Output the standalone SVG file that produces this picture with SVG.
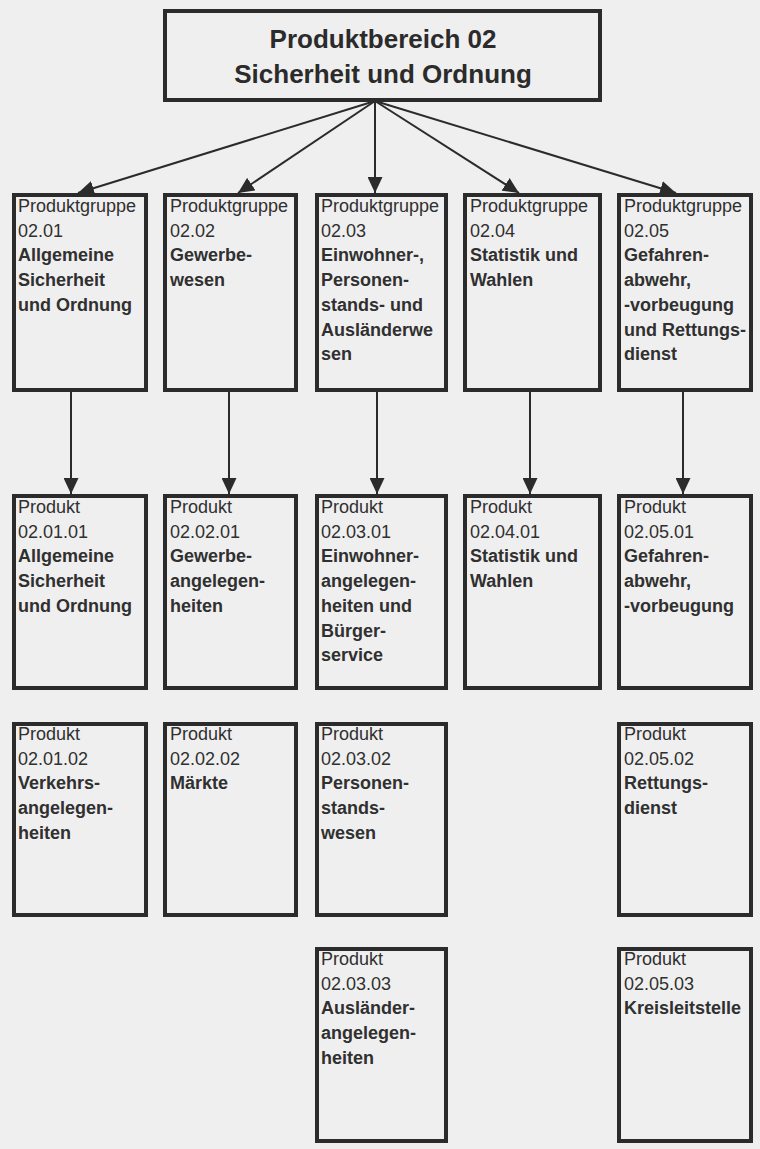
<svg xmlns="http://www.w3.org/2000/svg" width="760" height="1149" viewBox="0 0 760 1149">
<style>
.bg{fill:#efefef}
.box{fill:none;stroke:#2b2b2b;stroke-width:4}
.t{font-family:"Liberation Sans",Arial,sans-serif;font-size:18px;fill:#303030}
.b{font-weight:bold}
.title{font-family:"Liberation Sans",Arial,sans-serif;font-size:26px;font-weight:bold;fill:#2b2b2b;text-anchor:middle}
.con{stroke:#2b2b2b;stroke-width:2;fill:none;marker-end:url(#ah)}
</style>
<defs>
<marker id="ah" markerUnits="userSpaceOnUse" markerWidth="16" markerHeight="15" refX="16" refY="7.5" orient="auto">
<path d="M0,0 L16,7.5 L0,15 z" fill="#2b2b2b"/>
</marker>
</defs>
<rect class="bg" x="0" y="0" width="760" height="1149"/>

<g id="connectors">
<line class="con" x1="375" y1="101" x2="78" y2="193"/>
<line class="con" x1="375" y1="101" x2="238" y2="193"/>
<line class="con" x1="375" y1="101" x2="375" y2="193"/>
<line class="con" x1="375" y1="101" x2="519" y2="193"/>
<line class="con" x1="375" y1="101" x2="676" y2="193"/>
<line class="con" x1="71" y1="392" x2="71" y2="494"/>
<line class="con" x1="229" y1="392" x2="229" y2="494"/>
<line class="con" x1="377" y1="392" x2="377" y2="494"/>
<line class="con" x1="530" y1="392" x2="530" y2="494"/>
<line class="con" x1="683" y1="392" x2="683" y2="494"/>
</g>

<g id="pb02">
<rect class="box" x="165" y="11" width="435" height="89"/>
<text class="title" x="383" y="48">Produktbereich 02</text>
<text class="title" x="383" y="83">Sicherheit und Ordnung</text>
</g>

<!-- Row 1 -->
<g id="pg0201">
<rect class="box" x="14" y="195" width="132" height="195"/>
<text class="t" x="18" y="212">Produktgruppe<tspan x="18" dy="24.7">02.01</tspan><tspan class="b" x="18" dy="24.7">Allgemeine</tspan><tspan class="b" x="18" dy="24.7">Sicherheit</tspan><tspan class="b" x="18" dy="24.7">und Ordnung</tspan></text>
</g>
<g id="pg0202">
<rect class="box" x="165" y="195" width="131" height="195"/>
<text class="t" x="170" y="212">Produktgruppe<tspan x="170" dy="24.7">02.02</tspan><tspan class="b" x="170" dy="24.7">Gewerbe-</tspan><tspan class="b" x="170" dy="24.7">wesen</tspan></text>
</g>
<g id="pg0203">
<rect class="box" x="317" y="195" width="129" height="195"/>
<text class="t" x="321" y="212">Produktgruppe<tspan x="321" dy="24.7">02.03</tspan><tspan class="b" x="321" dy="24.7">Einwohner-,</tspan><tspan class="b" x="321" dy="24.7">Personen-</tspan><tspan class="b" x="321" dy="24.7">stands- und</tspan><tspan class="b" x="321" dy="24.7">Ausländerwe</tspan><tspan class="b" x="321" dy="24.7">sen</tspan></text>
</g>
<g id="pg0204">
<rect class="box" x="465" y="195" width="135" height="195"/>
<text class="t" x="470" y="212">Produktgruppe<tspan x="470" dy="24.7">02.04</tspan><tspan class="b" x="470" dy="24.7">Statistik und</tspan><tspan class="b" x="470" dy="24.7">Wahlen</tspan></text>
</g>
<g id="pg0205">
<rect class="box" x="619" y="195" width="132" height="195"/>
<text class="t" x="624" y="212">Produktgruppe<tspan x="624" dy="24.7">02.05</tspan><tspan class="b" x="624" dy="24.7">Gefahren-</tspan><tspan class="b" x="624" dy="24.7">abwehr,</tspan><tspan class="b" x="624" dy="24.7">-vorbeugung</tspan><tspan class="b" x="624" dy="24.7">und Rettungs-</tspan><tspan class="b" x="624" dy="24.7">dienst</tspan></text>
</g>

<!-- Row 2 -->
<g id="p020101">
<rect class="box" x="14" y="496" width="132" height="192"/>
<text class="t" x="18" y="513">Produkt<tspan x="18" dy="24.7">02.01.01</tspan><tspan class="b" x="18" dy="24.7">Allgemeine</tspan><tspan class="b" x="18" dy="24.7">Sicherheit</tspan><tspan class="b" x="18" dy="24.7">und Ordnung</tspan></text>
</g>
<g id="p020201">
<rect class="box" x="165" y="496" width="131" height="192"/>
<text class="t" x="170" y="513">Produkt<tspan x="170" dy="24.7">02.02.01</tspan><tspan class="b" x="170" dy="24.7">Gewerbe-</tspan><tspan class="b" x="170" dy="24.7">angelegen-</tspan><tspan class="b" x="170" dy="24.7">heiten</tspan></text>
</g>
<g id="p020301">
<rect class="box" x="317" y="496" width="129" height="192"/>
<text class="t" x="321" y="513">Produkt<tspan x="321" dy="24.7">02.03.01</tspan><tspan class="b" x="321" dy="24.7">Einwohner-</tspan><tspan class="b" x="321" dy="24.7">angelegen-</tspan><tspan class="b" x="321" dy="24.7">heiten und</tspan><tspan class="b" x="321" dy="24.7">Bürger-</tspan><tspan class="b" x="321" dy="24.7">service</tspan></text>
</g>
<g id="p020401">
<rect class="box" x="465" y="496" width="135" height="192"/>
<text class="t" x="470" y="513">Produkt<tspan x="470" dy="24.7">02.04.01</tspan><tspan class="b" x="470" dy="24.7">Statistik und</tspan><tspan class="b" x="470" dy="24.7">Wahlen</tspan></text>
</g>
<g id="p020501">
<rect class="box" x="619" y="496" width="132" height="192"/>
<text class="t" x="624" y="513">Produkt<tspan x="624" dy="24.7">02.05.01</tspan><tspan class="b" x="624" dy="24.7">Gefahren-</tspan><tspan class="b" x="624" dy="24.7">abwehr,</tspan><tspan class="b" x="624" dy="24.7">-vorbeugung</tspan></text>
</g>

<!-- Row 3 -->
<g id="p020102">
<rect class="box" x="14" y="724" width="132" height="191"/>
<text class="t" x="18" y="740">Produkt<tspan x="18" dy="24.7">02.01.02</tspan><tspan class="b" x="18" dy="24.7">Verkehrs-</tspan><tspan class="b" x="18" dy="24.7">angelegen-</tspan><tspan class="b" x="18" dy="24.7">heiten</tspan></text>
</g>
<g id="p020202">
<rect class="box" x="165" y="724" width="131" height="191"/>
<text class="t" x="170" y="740">Produkt<tspan x="170" dy="24.7">02.02.02</tspan><tspan class="b" x="170" dy="24.7">Märkte</tspan></text>
</g>
<g id="p020302">
<rect class="box" x="317" y="724" width="129" height="191"/>
<text class="t" x="321" y="740">Produkt<tspan x="321" dy="24.7">02.03.02</tspan><tspan class="b" x="321" dy="24.7">Personen-</tspan><tspan class="b" x="321" dy="24.7">stands-</tspan><tspan class="b" x="321" dy="24.7">wesen</tspan></text>
</g>
<g id="p020502">
<rect class="box" x="619" y="724" width="132" height="191"/>
<text class="t" x="624" y="740">Produkt<tspan x="624" dy="24.7">02.05.02</tspan><tspan class="b" x="624" dy="24.7">Rettungs-</tspan><tspan class="b" x="624" dy="24.7">dienst</tspan></text>
</g>

<!-- Row 4 -->
<g id="p020303">
<rect class="box" x="317" y="949" width="129" height="192"/>
<text class="t" x="321" y="965">Produkt<tspan x="321" dy="24.7">02.03.03</tspan><tspan class="b" x="321" dy="24.7">Ausländer-</tspan><tspan class="b" x="321" dy="24.7">angelegen-</tspan><tspan class="b" x="321" dy="24.7">heiten</tspan></text>
</g>
<g id="p020503">
<rect class="box" x="619" y="949" width="132" height="192"/>
<text class="t" x="624" y="965">Produkt<tspan x="624" dy="24.7">02.05.03</tspan><tspan class="b" x="624" dy="24.7">Kreisleitstelle</tspan></text>
</g>
</svg>
